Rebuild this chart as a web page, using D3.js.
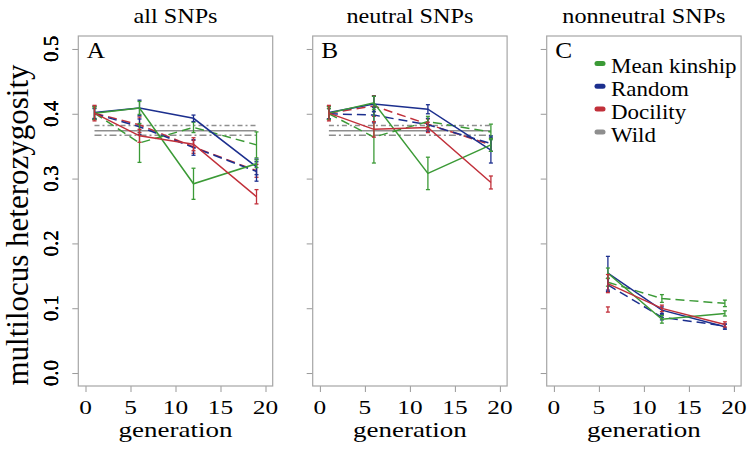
<!DOCTYPE html>
<html>
<head>
<meta charset="utf-8">
<script src="https://cdn.jsdelivr.net/npm/d3@7"></script>
<style>
body { margin: 0; background: #fff; }
svg text { font-family: "Liberation Serif", "Times New Roman", serif; fill: #000; }
</style>
</head>
<body>
<script>
// data
var generations = [1, 6, 12, 19];
var panelTitles = ["all SNPs", "neutral SNPs", "nonneutral SNPs"];
var panelLetters = ["A", "B", "C"];
var legendNames = ["Mean kinship", "Random", "Docility", "Wild"];
var xTicks = [0, 5, 10, 15, 20];
var yTicks = [0, 0.1, 0.2, 0.3, 0.4, 0.5];

// all SNPs
var allKinship1 = [0.401, 0.409, 0.292, 0.323],  allKinship1Err = [0.010, 0.010, 0.024, 0.006];
var allKinship2 = [0.401, 0.355, 0.379, 0.352],  allKinship2Err = [0.008, 0.030, 0.008, 0.020];
var allRandom1 = [0.402, 0.409, 0.393, 0.318],   allRandom1Err = [0.010, 0.012, 0.005, 0.012];
var allRandom2 = [0.400, 0.380, 0.348, 0.311],   allRandom2Err = [0.008, 0.012, 0.012, 0.015];
var allDocility1 = [0.401, 0.366, 0.353, 0.272], allDocility1Err = [0.012, 0.010, 0.010, 0.011];
var allDocility2 = [0.401, 0.383, 0.349, 0.312], allDocility2Err = [0.010, 0.012, 0.010, 0.010];
var allWild = [0.367, 0.374, 0.382];

// neutral SNPs
var neuKinship1 = [0.401, 0.417, 0.308, 0.352],  neuKinship1Err = [0.010, 0.010, 0.025, 0.010];
var neuKinship2 = [0.400, 0.364, 0.388, 0.372],  neuKinship2Err = [0.008, 0.040, 0.008, 0.012];
var neuRandom1 = [0.402, 0.415, 0.407, 0.344],   neuRandom1Err = [0.010, 0.012, 0.007, 0.020];
var neuRandom2 = [0.400, 0.398, 0.383, 0.354],   neuRandom2Err = [0.008, 0.012, 0.010, 0.012];
var neuDocility1 = [0.401, 0.376, 0.379, 0.294], neuDocility1Err = [0.012, 0.012, 0.008, 0.010];
var neuDocility2 = [0.401, 0.412, 0.384, 0.352], neuDocility2Err = [0.010, 0.016, 0.008, 0.010];
var neuWild = [0.367, 0.374, 0.382];

// nonneutral SNPs
var nonKinship1 = [null, 0.154, 0.083, 0.092],   nonKinship1Err = [0, 0.008, 0.006, 0.004];
var nonKinship2 = [null, 0.140, 0.115, 0.1075],  nonKinship2Err = [0, 0.006, 0.006, 0.005];
var nonRandom1 = [null, 0.154, 0.097, 0.0715],   nonRandom1Err = [0, 0.026, 0.005, 0.004];
var nonRandom2 = [null, 0.136, 0.086, 0.0725],   nonRandom2Err = [0, 0.010, 0.004, 0.003];
var nonDocility1 = [null, 0.138, 0.0998, 0.075], nonDocility1Err = [0, 0.014, 0.005, 0.004];
var nonDocility2 = [null, 0.098, null, null],    nonDocility2Err = [0, 0.004, 0, 0];
var nonWild = null;

var colors = { kinship: "#3b9a36", random: "#1c2f8e", docility: "#c1303a", wild: "#8e8e8e" };

function mk(group, rep, vals, errs) {
    return { group: group, rep: rep, vals: vals, errs: errs };
}

// draw order: dashed under solid, red on top
var panels = [
    { title: panelTitles[0], letter: panelLetters[0], wild: allWild, series: [
        mk("docility", 2, allDocility2, allDocility2Err), mk("random", 2, allRandom2, allRandom2Err),
        mk("kinship", 2, allKinship2, allKinship2Err), mk("random", 1, allRandom1, allRandom1Err),
        mk("kinship", 1, allKinship1, allKinship1Err), mk("docility", 1, allDocility1, allDocility1Err)] },
    { title: panelTitles[1], letter: panelLetters[1], wild: neuWild, series: [
        mk("docility", 2, neuDocility2, neuDocility2Err), mk("random", 2, neuRandom2, neuRandom2Err),
        mk("kinship", 2, neuKinship2, neuKinship2Err), mk("random", 1, neuRandom1, neuRandom1Err),
        mk("kinship", 1, neuKinship1, neuKinship1Err), mk("docility", 1, neuDocility1, neuDocility1Err)] },
    { title: panelTitles[2], letter: panelLetters[2], wild: nonWild, series: [
        mk("docility", 2, nonDocility2, nonDocility2Err), mk("random", 2, nonRandom2, nonRandom2Err),
        mk("kinship", 2, nonKinship2, nonKinship2Err), mk("random", 1, nonRandom1, nonRandom1Err),
        mk("kinship", 1, nonKinship1, nonKinship1Err), mk("docility", 1, nonDocility1, nonDocility1Err)] }
];

// layout
var panelLefts = [78.3, 312.7, 546.7],
    panelWidth = 194.4,
    plotTop = 36,
    plotBottom = 386,
    serif = "'Liberation Serif', 'Times New Roman', serif";

var svg = d3.select("body").append("svg")
    .attr("width", 750)
    .attr("height", 449);

var y = d3.scaleLinear().domain([-0.02, 0.52]).range([plotBottom, plotTop]);

// y axis title
svg.append("text")
    .attr("transform", "translate(28,225) rotate(-90)")
    .attr("text-anchor", "middle")
    .attr("font-family", serif)
    .style("font-size", "31px")
    .text("multilocus heterozygosity");

panels.forEach(function(p, i) {
    var left = panelLefts[i];
    var x = d3.scaleLinear().domain([-0.8, 20.8]).range([left, left + panelWidth]);
    var g = svg.append("g").attr("class", "panel").attr("font-family", serif);
    var cx = x(10);

    // axes
    var ya = g.append("g")
        .attr("transform", "translate(" + left + ",0)")
        .call(d3.axisLeft(y).tickValues(yTicks).tickSize(6).tickSizeOuter(0).tickFormat(""));
    ya.select(".domain").remove();
    ya.selectAll("line").attr("stroke", "#999");

    var xa = g.append("g")
        .attr("transform", "translate(0," + plotBottom + ")")
        .call(d3.axisBottom(x).tickValues(xTicks).tickSize(6).tickSizeOuter(0).tickFormat(""));
    xa.select(".domain").remove();
    xa.selectAll("line").attr("stroke", "#999");

    g.append("rect")
        .attr("x", left).attr("y", plotTop)
        .attr("width", panelWidth).attr("height", plotBottom - plotTop)
        .attr("fill", "none").attr("stroke", "#a6a6a6").attr("stroke-width", 1.2);

    // tick labels
    g.selectAll(".ylab").data(yTicks).enter().append("text")
        .attr("transform", function(d) { return "translate(58," + y(d) + ") rotate(-90)"; })
        .attr("text-anchor", "middle")
        .style("font-size", "21px")
        .text(d3.format(".1f"));

    g.selectAll(".xlab").data(xTicks).enter().append("text")
        .attr("transform", function(d) { return "translate(" + x(d) + ",414) scale(1.3,1)"; })
        .attr("text-anchor", "middle")
        .style("font-size", "19.5px")
        .text(function(d) { return d; });

    g.append("text")
        .attr("transform", "translate(" + cx + ",437) scale(1.35,1)")
        .attr("text-anchor", "middle")
        .style("font-size", "20px")
        .text("generation");

    g.append("text")
        .attr("transform", "translate(" + cx + ",23) scale(1.18,1)")
        .attr("text-anchor", "middle")
        .style("font-size", "20.5px")
        .text(p.title);

    g.append("text")
        .attr("transform", "translate(" + (left + 8.5) + ",58) scale(1.1,1)")
        .style("font-size", "23px")
        .text(p.letter);

    // wild reference lines
    if (p.wild) {
        var dashes = ["7,3,2,3", null, "5,3,2,3"];
        p.wild.forEach(function(v, k) {
            g.append("line")
                .attr("x1", x(generations[0])).attr("x2", x(generations[3]))
                .attr("y1", y(v)).attr("y2", y(v))
                .attr("stroke", colors.wild)
                .attr("stroke-width", 1.5)
                .attr("stroke-dasharray", dashes[k]);
        });
    }

    // series lines + error bars
    p.series.forEach(function(s) {
        var pts = generations.map(function(gen, k) {
            return { gen: gen, v: s.vals[k], e: s.errs[k] };
        }).filter(function(d) { return d.v != null; });
        var line = d3.line()
            .x(function(d) { return x(d.gen); })
            .y(function(d) { return y(d.v); });
        if (pts.length > 1) {
            g.append("path")
                .attr("d", line(pts))
                .attr("fill", "none")
                .attr("stroke", colors[s.group])
                .attr("stroke-width", 1.5)
                .attr("stroke-dasharray", s.rep == 2 ? "9,5" : null);
        }
        var eb = g.append("g").attr("stroke", colors[s.group]).attr("stroke-width", 1.3);
        pts.forEach(function(d) {
            var px = x(d.gen), y1 = y(d.v - d.e), y2 = y(d.v + d.e);
            eb.append("line").attr("x1", px).attr("x2", px).attr("y1", y1).attr("y2", y2);
            eb.append("line").attr("x1", px - 2).attr("x2", px + 2).attr("y1", y1).attr("y2", y1);
            eb.append("line").attr("x1", px - 2).attr("x2", px + 2).attr("y1", y2).attr("y2", y2);
        });
    });

    // legend in last panel
    if (i == 2) {
        var legKeys = ["kinship", "random", "docility", "wild"];
        var lg = g.append("g").attr("class", "legend");
        legendNames.forEach(function(name, k) {
            var ly = 63.5 + k * 22.8;
            lg.append("line")
                .attr("x1", 597).attr("x2", 603)
                .attr("y1", ly).attr("y2", ly)
                .attr("stroke", colors[legKeys[k]])
                .attr("stroke-width", 5)
                .attr("stroke-linecap", "round");
            lg.append("text")
                .attr("transform", "translate(611," + (ly + 9.8) + ") scale(1.12,1)")
                .style("font-size", "20.5px")
                .text(name);
        });
    }
});
</script>
</body>
</html>
